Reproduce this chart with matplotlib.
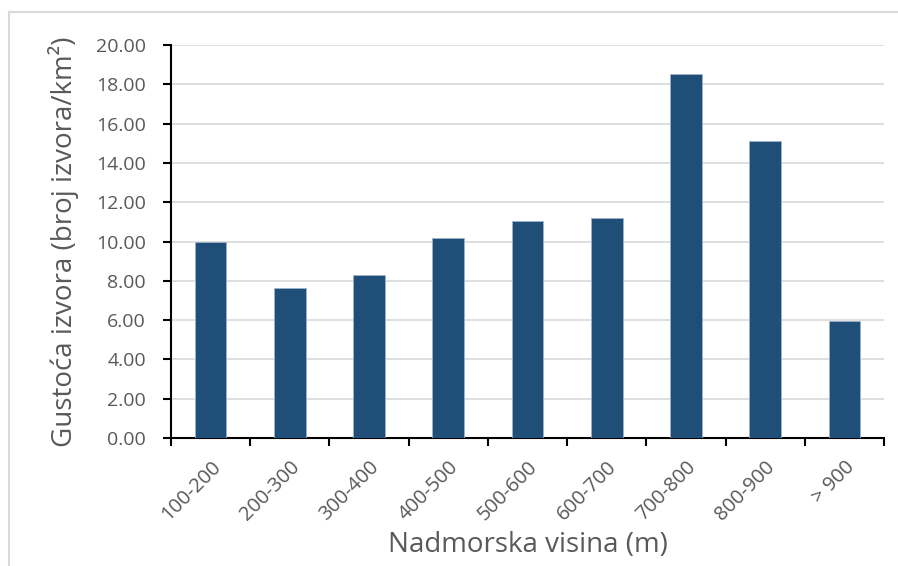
import matplotlib.pyplot as plt
import numpy as np
from matplotlib.lines import Line2D
from matplotlib.ticker import FormatStrFormatter

plt.rcParams['font.family'] = ['Open Sans', 'DejaVu Sans']

kategorije = ["100-200", "200-300", "300-400", "400-500", "500-600",
              "600-700", "700-800", "800-900", "> 900"]
gustoca = [10.0, 7.65, 8.3, 10.2, 11.05, 11.2, 18.5, 15.1, 5.95]

siva = "#595959"

fig = plt.figure(figsize=(8.98, 5.66), dpi=100)
ax = fig.add_axes([0.1904, 0.2261, 0.7940, 0.6944])

x = np.arange(len(kategorije))
ax.bar(x, gustoca, width=0.4, color="#1F4E79", edgecolor="#9db3cc",
       linewidth=0.6, zorder=3)

ax.set_xlim(-0.5, len(kategorije) - 0.5)
ax.set_ylim(0, 20)
ax.set_yticks(np.arange(0, 21, 2))
ax.yaxis.set_major_formatter(FormatStrFormatter("%.2f"))
ax.grid(axis="y", color="#d9d9d9", linewidth=1.2, zorder=0)

ax.set_xticks(x)
ax.set_xticklabels(kategorije, rotation=45, ha="right", rotation_mode="anchor")
ax.set_xticks(np.arange(-0.5, len(kategorije)), minor=True)
ax.tick_params(axis="x", which="major", length=0, pad=14, labelsize=14.5, labelcolor=siva)
ax.tick_params(axis="x", which="minor", length=6, width=1.5, color="black")
ax.tick_params(axis="y", length=6, width=1.5, color="black", labelsize=14,
               labelcolor=siva, pad=12)

for s in ["top", "right"]:
    ax.spines[s].set_visible(False)
ax.spines["left"].set_linewidth(1.5)
ax.spines["bottom"].set_linewidth(1.5)

ax.set_xlabel("Nadmorska visina (m)", fontsize=20, color=siva, labelpad=4)
ax.set_ylabel("Gustoća izvora (broj izvora/km²)", fontsize=20, color=siva, labelpad=12)

# okvir grafikona (samo gornji i lijevi rub su vidljivi)
fig.add_artist(Line2D([9 / 898, 1], [1 - 12 / 566, 1 - 12 / 566], color="#d9d9d9", linewidth=1.5))
fig.add_artist(Line2D([9 / 898, 9 / 898], [0, 1 - 12 / 566], color="#d9d9d9", linewidth=1.5))

fig.savefig("out.png", dpi=100)
